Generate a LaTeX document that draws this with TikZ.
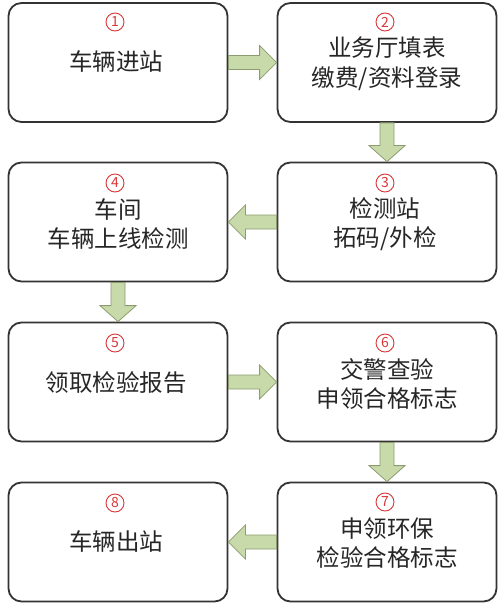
\documentclass[tikz,border=0pt]{standalone}
\usepackage{fontspec}
\setmainfont{Noto Sans CJK SC}
\usetikzlibrary{calc}
\definecolor{boxline}{HTML}{333333}
\definecolor{arrfill}{HTML}{C8DAAA}
\definecolor{arrline}{HTML}{8C9C70}
\definecolor{numred}{HTML}{D9383A}
\tikzset{
  stepbox/.style={draw=boxline, line width=1.8pt, rounded corners=13pt, minimum width=219pt, minimum height=119pt, fill=white},
  num/.style={circle, draw=numred, line width=0.9pt, text=numred, inner sep=0pt, minimum size=18pt, font=\fontsize{14}{14}\selectfont},
  lbl/.style={align=center, font=\fontsize{23.5}{29.5}\selectfont, text=black!85},
  fatarr/.style={fill=arrfill, draw=arrline, line width=0.8pt, line join=miter}
}
\newcommand\rarrow[2]{\path let \p1=(#1), \p2=(#2) in [fatarr] (\x1,\y1+7pt) -- (\x2-17pt,\y1+7pt) -- (\x2-17pt,\y1+17pt) -- (\x2,\y1) -- (\x2-17pt,\y1-17pt) -- (\x2-17pt,\y1-7pt) -- (\x1,\y1-7pt) -- cycle;}
\newcommand\larrow[2]{\path let \p1=(#1), \p2=(#2) in [fatarr] (\x1,\y1+7pt) -- (\x2+17pt,\y1+7pt) -- (\x2+17pt,\y1+17pt) -- (\x2,\y1) -- (\x2+17pt,\y1-17pt) -- (\x2+17pt,\y1-7pt) -- (\x1,\y1-7pt) -- cycle;}
\newcommand\darrow[2]{\path let \p1=(#1), \p2=(#2) in [fatarr] (\x1-7pt,\y1) -- (\x1-7pt,\y2+16pt) -- (\x1-18pt,\y2+16pt) -- (\x1,\y2) -- (\x1+18pt,\y2+16pt) -- (\x1+7pt,\y2+16pt) -- (\x1+7pt,\y1) -- cycle;}
\begin{document}
\begin{tikzpicture}[x=1pt,y=-1pt]
\useasboundingbox (0,0) rectangle (500,604);
\fill[white] (0,0) rectangle (500,604);
% boxes
\node[stepbox] (b1) at (118,62.5) {};
\node[stepbox] (b2) at (387,62.5) {};
\node[stepbox] (b4) at (118,222) {};
\node[stepbox] (b3) at (387,222) {};
\node[stepbox] (b5) at (118,382) {};
\node[stepbox] (b6) at (387,382) {};
\node[stepbox] (b8) at (118,542) {};
\node[stepbox] (b7) at (387,542) {};
% numbers
\node[num] (n1) at (115,22) {1};
\node[num] (n2) at (385,22) {2};
\node[num] (n3) at (385,183) {3};
\node[num] (n4) at (115,183) {4};
\node[num] (n5) at (115,343) {5};
\node[num] (n6) at (385,343) {6};
\node[num] (n7) at (385,502) {7};
\node[num] (n8) at (115,503) {8};
% labels
\node[lbl] (t1) at (116,62) {车辆进站};
\node[lbl] (t2) at (387,63.5) {业务厅填表\\缴费/资料登录};
\node[lbl] (t3) at (385,224) {检测站\\拓码/外检};
\node[lbl] (t4) at (118,224) {车间\\车辆上线检测};
\node[lbl] (t5) at (116,383) {领取检验报告};
\node[lbl] (t6) at (387,384) {交警查验\\申领合格标志};
\node[lbl] (t7) at (387,543) {申领环保\\检验合格标志};
\node[lbl] (t8) at (116,542) {车辆出站};
% arrows
\rarrow{b1.east}{b2.west}
\darrow{b2.south}{b3.north}
\larrow{b3.west}{b4.east}
\darrow{b4.south}{b5.north}
\rarrow{b5.east}{b6.west}
\darrow{b6.south}{b7.north}
\larrow{b7.west}{b8.east}
\end{tikzpicture}
\end{document}
